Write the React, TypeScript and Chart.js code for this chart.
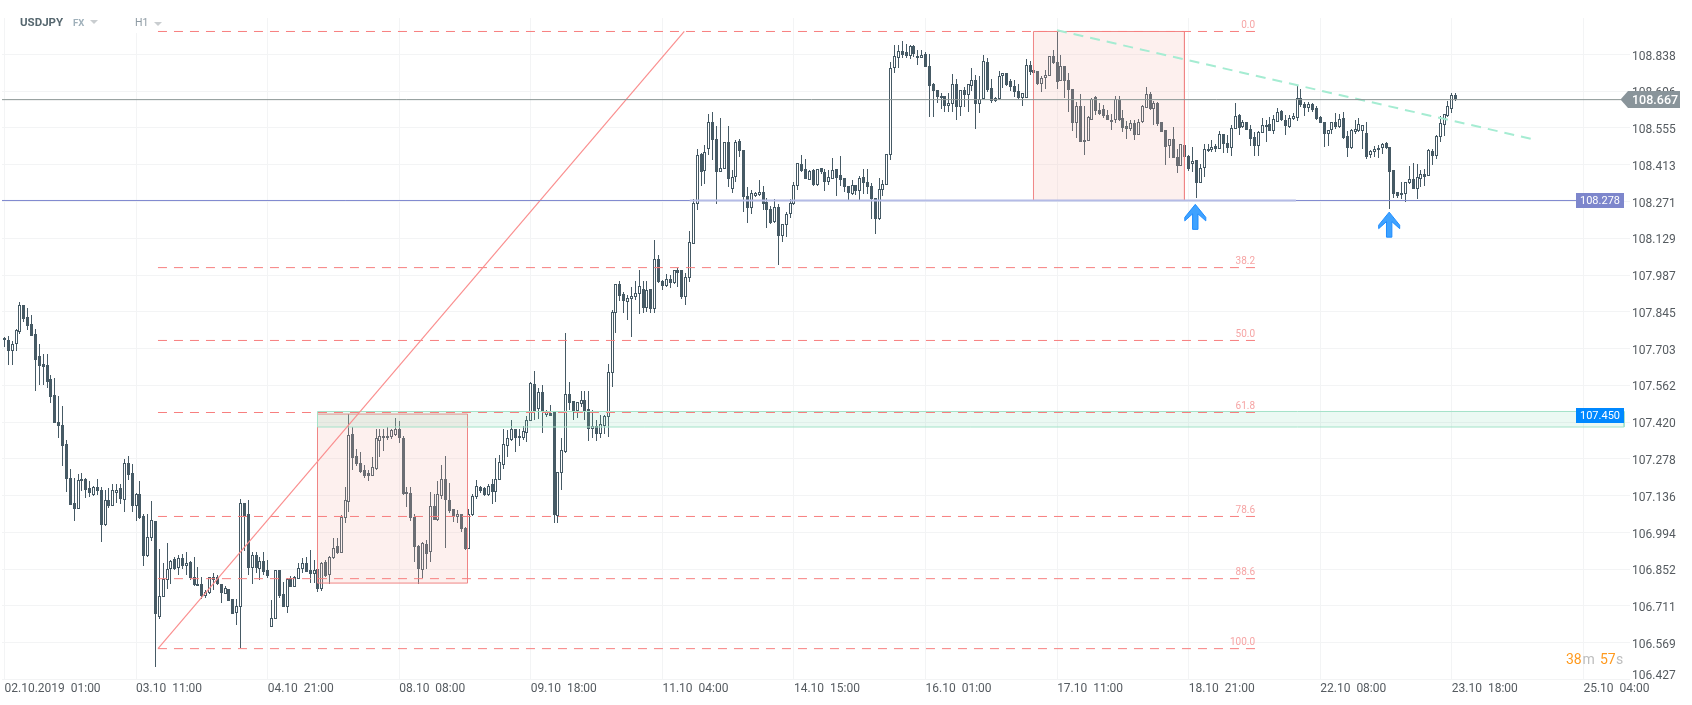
import React, { useEffect, useRef } from "react";
import { Chart, registerables } from "chart.js";

Chart.register(...registerables);

// [open, high, low, close]
const candlesEarlyOct = [
[107.746,107.749,107.710,107.736],[107.738,107.751,107.639,107.695],[107.695,107.732,107.639,107.723],[107.720,107.780,107.695,107.774],[107.768,107.882,107.761,107.871],[107.871,107.871,107.806,107.819],[107.826,107.862,107.774,107.790],[107.797,107.832,107.752,107.752],
[107.759,107.781,107.540,107.661],[107.674,107.723,107.562,107.637],[107.644,107.682,107.565,107.633],[107.640,107.682,107.552,107.575],[107.586,107.601,107.492,107.518],[107.524,107.592,107.415,107.415],[107.420,107.520,107.359,107.406],[107.408,107.482,107.251,107.328],
[107.335,107.350,107.151,107.202],[107.206,107.241,107.101,107.101],[107.106,107.206,107.039,107.085],[107.085,107.219,107.083,107.196],[107.193,107.224,107.155,107.202],[107.202,107.206,107.129,107.160],[107.164,107.192,107.132,107.148],[107.137,107.173,107.134,107.168],
[107.168,107.199,107.138,107.155],[107.160,107.170,106.958,107.024],[107.022,107.157,107.019,107.119],[107.119,107.164,107.089,107.097],[107.098,107.181,107.097,107.157],[107.147,107.181,107.106,107.160],[107.164,107.181,107.103,107.123],[107.121,107.278,107.074,107.264],
[107.264,107.289,107.196,107.217],[107.222,107.258,107.074,107.097],[107.097,107.147,107.039,107.141],[107.141,107.192,107.048,107.051],[107.057,107.067,106.866,106.904],[106.904,107.065,106.900,106.977],[106.974,107.115,106.962,107.044],[107.040,107.040,106.476,106.679],
[106.669,106.929,106.662,106.751],[106.746,106.875,106.746,106.814],[106.810,106.952,106.778,106.855],[106.853,106.887,106.795,106.886],[106.890,106.900,106.851,106.853],[106.859,106.907,106.830,106.894],[106.894,106.913,106.855,106.864],[106.864,106.917,106.830,106.878],
[106.881,106.884,106.810,106.817],[106.824,106.900,106.787,106.791],[106.797,106.862,106.787,106.788],[106.795,106.823,106.736,106.749],[106.749,106.772,106.740,106.763],[106.759,106.823,106.755,106.821],[106.821,106.836,106.772,106.810],[106.823,106.830,106.791,106.794],
[106.797,106.797,106.724,106.759],[106.757,106.787,106.755,106.779],[106.777,106.777,106.730,106.730],[106.737,106.737,106.679,106.680],[106.683,106.739,106.637,106.710],[106.705,107.125,106.547,107.106],[107.106,107.106,106.923,107.055],[107.064,107.119,106.830,106.859],
[106.859,106.920,106.797,106.907],[106.907,106.920,106.836,106.859],[106.853,106.900,106.810,106.886],[106.884,106.920,106.830,106.842],[106.851,106.887,106.817,106.826],[106.628,106.733,106.628,106.666],[106.662,106.849,106.662,106.848],[106.849,106.849,106.743,106.749],
[106.756,106.805,106.707,106.707],[106.707,106.817,106.684,106.814],[106.817,106.826,106.783,106.784],[106.784,106.826,106.784,106.821],[106.815,106.875,106.815,106.859],[106.853,106.894,106.836,106.875],[106.876,106.900,106.840,106.841],[106.849,106.926,106.800,106.833],
[106.835,106.887,106.800,106.848],[106.853,106.926,106.765,106.775],[106.775,106.881,106.769,106.878],[106.880,106.887,106.823,106.827],[106.830,106.903,106.795,106.900],[106.895,106.971,106.892,106.936],[106.941,106.971,106.913,106.916],[106.916,107.061,106.916,107.055],
[107.051,107.170,107.029,107.118],[107.112,107.453,107.074,107.370],[107.374,107.402,107.235,107.281],[107.289,107.318,107.250,107.258],[107.264,107.305,107.224,107.228],[107.235,107.254,107.206,107.213],[107.224,107.235,107.193,107.211],[107.213,107.286,107.211,107.247],
[107.241,107.395,107.235,107.357],[107.348,107.395,107.286,107.366],[107.359,107.395,107.309,107.368],[107.359,107.402,107.350,107.368],[107.363,107.395,107.353,107.389],[107.370,107.434,107.366,107.395],[107.395,107.424,107.340,107.358],[107.357,107.366,107.138,107.142],
[107.143,107.170,107.093,107.152],[107.148,107.170,107.038,107.051],[107.055,107.065,106.881,106.939],[106.943,106.945,106.797,106.853],[106.851,106.958,106.817,106.952],[106.949,106.965,106.855,106.911],[106.920,107.151,106.881,107.096],[107.098,107.141,107.042,107.044],
[107.042,107.193,107.039,107.141],[107.136,107.254,107.125,107.202],[107.202,107.289,106.935,107.121],[107.119,107.187,107.070,107.078],[107.083,107.083,107.035,107.055],[107.052,107.080,107.029,107.064],[107.064,107.064,106.997,107.008],[107.010,107.016,106.926,106.930],
[106.932,107.083,106.932,107.065],[107.061,107.141,107.058,107.134],[107.132,107.196,107.123,107.173],[107.170,107.173,107.145,107.155],[107.164,107.170,107.136,107.138],[107.139,107.181,107.134,107.175],[107.181,107.202,107.103,107.150],[107.150,107.283,107.112,107.202],
[107.198,107.292,107.196,107.267],
];

const candlesMidOct = [
[107.255,107.395,107.238,107.334],[107.328,107.389,107.286,107.357],[107.350,107.427,107.346,107.393],[107.393,107.393,107.305,107.357],[107.368,107.395,107.327,107.359],[107.359,107.404,107.350,107.384],[107.379,107.443,107.343,107.430],[107.425,107.573,107.425,107.569],
[107.566,107.617,107.430,107.462],[107.470,107.553,107.431,107.538],[107.538,107.563,107.379,107.460],[107.449,107.466,107.440,107.463],[107.457,107.485,107.443,107.444],[107.460,107.460,107.029,107.062],[107.058,107.226,107.031,107.226],[107.224,107.359,107.157,107.312],
[107.305,107.762,107.301,107.528],[107.530,107.574,107.466,107.494],[107.500,107.500,107.427,107.463],[107.463,107.496,107.436,107.496],[107.490,107.539,107.478,107.507],[107.507,107.539,107.427,107.463],[107.469,107.539,107.346,107.395],[107.395,107.466,107.359,107.404],
[107.404,107.430,107.346,107.373],[107.375,107.449,107.359,107.411],[107.406,107.447,107.373,107.444],[107.440,107.644,107.361,107.614],[107.610,107.854,107.556,107.845],[107.841,107.954,107.764,107.954],[107.954,107.963,107.886,107.907],[107.913,107.922,107.841,107.886],
[107.884,107.909,107.813,107.900],[107.895,107.942,107.749,107.907],[107.903,107.963,107.893,107.918],[107.916,108.006,107.836,107.944],[107.935,107.963,107.841,107.860],[107.859,107.963,107.845,107.931],[107.933,107.933,107.841,107.857],[107.857,108.122,107.841,108.051],
[108.051,108.066,107.957,107.959],[107.963,107.970,107.929,107.945],[107.945,107.990,107.941,107.974],[107.974,107.987,107.939,107.957],[107.957,108.008,107.954,108.005],[108.005,108.016,107.941,107.996],[108.008,108.008,107.894,107.903],[107.903,107.996,107.873,107.980],
[107.977,108.156,107.961,108.113],[108.109,108.280,108.106,108.267],[108.263,108.475,108.240,108.449],[108.453,108.460,108.330,108.385],[108.389,108.488,108.338,108.462],[108.475,108.608,108.451,108.576],[108.576,108.618,108.430,108.507],[108.514,108.561,108.260,108.385],
[108.385,108.592,108.385,108.401],[108.398,108.502,108.397,108.502],[108.502,108.564,108.327,108.358],[108.320,108.392,108.304,108.366],[108.366,108.507,108.347,108.502],[108.505,108.514,108.443,108.466],[108.471,108.471,108.231,108.289],[108.294,108.327,108.188,108.246],
[108.246,108.314,108.224,108.302],[108.293,108.308,108.289,108.302],[108.296,108.353,108.294,108.307],[108.307,108.330,108.240,108.262],[108.268,108.285,108.169,108.240],[108.244,108.254,108.186,108.190],[108.192,108.282,108.190,108.248],[108.248,108.260,108.025,108.138],
[108.138,108.186,108.113,108.186],[108.182,108.231,108.134,108.224],[108.224,108.282,108.208,108.267],[108.262,108.347,108.259,108.336],[108.332,108.421,108.314,108.421],[108.415,108.449,108.386,108.389],[108.398,108.434,108.357,108.358],[108.354,108.392,108.353,108.388],
[108.392,108.396,108.330,108.334],[108.334,108.398,108.332,108.397],[108.399,108.399,108.376,108.384],[108.384,108.398,108.312,108.347],[108.347,108.392,108.334,108.367],[108.358,108.437,108.357,108.394],[108.395,108.398,108.293,108.362],[108.372,108.446,108.330,108.354],
[108.360,108.360,108.309,108.326],[108.332,108.332,108.272,108.303],[108.300,108.353,108.298,108.336],[108.336,108.336,108.295,108.312],[108.312,108.368,108.272,108.360],[108.367,108.398,108.299,108.343],[108.348,108.398,108.299,108.326],[108.332,108.343,108.205,108.279],
[108.286,108.286,108.145,108.204],[108.204,108.360,108.201,108.321],[108.314,108.353,108.293,108.340],[108.336,108.455,108.336,108.455],[108.451,108.808,108.430,108.786],[108.785,108.876,108.767,108.831],[108.826,108.874,108.786,108.852],[108.852,108.889,108.826,108.838],
[108.847,108.880,108.826,108.833],[108.833,108.874,108.820,108.870],[108.870,108.874,108.829,108.840],[108.834,108.857,108.799,108.824],[108.825,108.855,108.824,108.838],[108.842,108.846,108.790,108.790],[108.795,108.842,108.597,108.716],[108.723,108.730,108.597,108.698],
[108.703,108.703,108.651,108.673],[108.680,108.691,108.627,108.671],[108.680,108.680,108.617,108.640],[108.640,108.691,108.617,108.653],[108.649,108.762,108.617,108.723],[108.723,108.745,108.585,108.636],[108.636,108.703,108.600,108.703],[108.700,108.711,108.636,108.682],
[108.682,108.726,108.617,108.726],[108.717,108.788,108.698,108.739],[108.739,108.759,108.551,108.646],[108.647,108.756,108.611,108.668],[108.667,108.835,108.667,108.815],[108.808,108.826,108.694,108.702],[108.708,108.744,108.651,108.657],[108.657,108.675,108.654,108.672],
[108.666,108.773,108.664,108.757],
];

const candlesLateOct = [
[108.756,108.765,108.709,108.765],[108.765,108.765,108.716,108.721],[108.735,108.745,108.698,108.713],[108.718,108.739,108.675,108.695],[108.696,108.726,108.668,108.671],[108.671,108.691,108.640,108.691],[108.671,108.819,108.671,108.799],[108.799,108.812,108.758,108.771],
[108.777,108.777,108.767,108.767],[108.774,108.774,108.720,108.723],[108.725,108.754,108.694,108.749],[108.748,108.777,108.707,108.761],[108.757,108.831,108.757,108.831],[108.831,108.857,108.803,108.806],[108.811,108.932,108.707,108.732],[108.735,108.835,108.735,108.793],
[108.793,108.793,108.671,108.735],[108.741,108.765,108.617,108.703],[108.707,108.707,108.543,108.572],[108.574,108.654,108.516,108.639],[108.639,108.684,108.501,108.501],[108.501,108.639,108.452,108.510],[108.504,108.600,108.504,108.596],[108.587,108.671,108.584,108.668],
[108.675,108.677,108.604,108.621],[108.626,108.651,108.604,108.609],[108.627,108.642,108.595,108.601],[108.606,108.623,108.585,108.587],[108.587,108.610,108.546,108.579],[108.585,108.677,108.574,108.666],[108.662,108.677,108.582,108.587],[108.592,108.623,108.540,108.555],
[108.561,108.581,108.514,108.552],[108.552,108.585,108.542,108.574],[108.574,108.587,108.507,108.528],[108.528,108.591,108.527,108.576],[108.576,108.642,108.572,108.641],[108.632,108.711,108.630,108.684],[108.685,108.694,108.626,108.627],[108.627,108.658,108.565,108.651],
[108.651,108.655,108.561,108.569],[108.576,108.576,108.540,108.540],[108.546,108.546,108.411,108.482],[108.485,108.514,108.437,108.514],[108.514,108.559,108.439,108.439],[108.441,108.475,108.381,108.408],[108.408,108.491,108.408,108.491],[108.488,108.488,108.430,108.441],
[108.446,108.450,108.389,108.395],[108.416,108.480,108.385,108.429],[108.430,108.430,108.284,108.343],[108.343,108.414,108.343,108.402],[108.402,108.494,108.366,108.475],[108.467,108.491,108.462,108.475],[108.469,108.507,108.462,108.483],[108.484,108.494,108.462,108.473],
[108.473,108.542,108.473,108.533],[108.533,108.533,108.458,108.492],[108.496,108.529,108.458,108.476],[108.478,108.568,108.446,108.556],[108.552,108.653,108.552,108.599],[108.604,108.610,108.529,108.556],[108.559,108.585,108.556,108.578],[108.576,108.576,108.546,108.547],
[108.552,108.565,108.485,108.511],[108.518,108.540,108.447,108.485],[108.485,108.543,108.447,108.541],[108.536,108.594,108.536,108.568],[108.559,108.585,108.501,108.568],[108.569,108.597,108.542,108.542],[108.543,108.604,108.533,108.588],[108.578,108.633,108.578,108.618],
[108.619,108.623,108.582,108.587],[108.584,108.604,108.527,108.561],[108.559,108.604,108.556,108.595],[108.590,108.613,108.587,108.599],[108.595,108.717,108.582,108.672],[108.672,108.704,108.636,108.642],[108.649,108.655,108.601,108.632],[108.631,108.655,108.617,108.646],
[108.646,108.653,108.617,108.623],[108.632,108.639,108.585,108.588],[108.596,108.600,108.572,108.574],[108.579,108.579,108.482,108.530],[108.530,108.548,108.485,108.548],[108.546,108.578,108.533,108.576],[108.577,108.614,108.552,108.559],[108.559,108.610,108.556,108.591],
[108.592,108.617,108.514,108.516],[108.522,108.543,108.443,108.478],[108.478,108.549,108.473,108.546],[108.540,108.587,108.533,108.549],[108.543,108.593,108.540,108.569],[108.542,108.568,108.475,108.568],[108.537,108.578,108.435,108.443],[108.449,108.471,108.440,108.467],
[108.462,108.485,108.443,108.475],[108.470,108.488,108.437,108.479],[108.478,108.497,108.453,108.494],[108.497,108.501,108.473,108.476],[108.480,108.480,108.243,108.385],[108.392,108.392,108.285,108.300],[108.307,108.307,108.286,108.293],[108.296,108.347,108.282,108.305],
[108.299,108.348,108.269,108.348],[108.343,108.408,108.340,108.356],[108.357,108.419,108.320,108.320],[108.320,108.415,108.280,108.365],[108.359,108.392,108.327,108.376],[108.377,108.398,108.330,108.367],[108.370,108.473,108.368,108.469],[108.466,108.473,108.411,108.447],
[108.447,108.529,108.434,108.523],[108.518,108.600,108.501,108.572],[108.567,108.610,108.524,108.610],[108.601,108.659,108.597,108.639],[108.628,108.691,108.613,108.681],[108.681,108.689,108.658,108.666],
];

const xTickLabels = ["02.10.2019  01:00","03.10  11:00","04.10  21:00","08.10  08:00","09.10  18:00","11.10  04:00","14.10  15:00","16.10  01:00","17.10  11:00","18.10  21:00","22.10  08:00","23.10  18:00","25.10  04:00"];
const yTickValues = [108.838,108.696,108.555,108.413,108.271,108.129,107.987,107.845,107.703,107.562,107.42,107.278,107.136,106.994,106.852,106.711,106.569,106.427];

const fibLevels = [["0.0",108.927],["38.2",108.016],["50.0",107.735],["61.8",107.457],["78.6",107.056],["88.6",106.816],["100.0",106.546]] as [string, number][];
const fibStartBar = 39.66;
const fibEndBar = 323.14;
const fibDiagonal = [{ x: 39.66, y: 106.546 }, { x: 175.66, y: 108.927 }];
const trendLine = [{ x: 271.96, y: 108.932 }, { x: 395.05, y: 108.511 }];
const redBoxes = [
  { x1: 80.88, x2: 119.64, top: 107.451, bottom: 106.799 },
  { x1: 265.89, x2: 304.9, top: 108.927, bottom: 108.275 },
];
const greenZone = { x1: 80.88, x2: 418.5, top: 107.461, bottom: 107.401 };
const lastPrice = 108.664;
const lastPriceLabel = "108.667";
const supportPrice = 108.275;
const supportLabel = "108.278";
const zoneLabel = "107.450";
const arrowMarks = [{ x: 307.7, y: 108.26 }, { x: 357.8, y: 108.23 }];

const X_MIN = -0.646;
const X_MAX = 420.03;
const Y_MIN = 106.427;
const Y_MAX = 108.979;

const CANDLE = "#465a65";

const allCandles = [...candlesEarlyOct, ...candlesMidOct, ...candlesLateOct];
const wicks = allCandles.map((c, i) => ({ x: i, y: [c[2], c[1]] }));
const upBodies = allCandles.map((c, i) => ({ x: i, y: [c[0], c[3]], up: c[3] >= c[0] })).filter((d) => d.up);
const downBodies = allCandles.map((c, i) => ({ x: i, y: [c[3], c[0]], up: c[3] >= c[0] })).filter((d) => !d.up);

const snapCandles = {
  id: "snapCandles",
  afterDatasetsUpdate(chart: any) {
    chart.data.datasets.forEach((ds: any, di: number) => {
      if (!ds.isCandle) return;
      chart.getDatasetMeta(di).data.forEach((el: any) => {
        el.x = Math.floor(el.x) + 0.5;
        let a = Math.round(el.y);
        let b = Math.round(el.base);
        if (a === b) b = a + 1;
        el.y = a;
        el.base = b;
      });
    });
  },
  // header strip hides the top of the grid line behind the H1 label
  beforeDatasetsDraw(chart: any) {
    chart.ctx.save();
    chart.ctx.fillStyle = "#ffffff";
    chart.ctx.fillRect(128, 15, 34, 18);
    chart.ctx.restore();
  },
};

const annotations = {
  id: "annotations",
  afterDraw(chart: any) {
    const { ctx } = chart;
    const xs = chart.scales.x;
    const ys = chart.scales.y;
    ctx.save();
    // header
    ctx.textBaseline = "middle";
    ctx.textAlign = "left";
    ctx.font = "bold 11.5px Roboto";
    ctx.fillStyle = "#56676f";
    ctx.fillText("USDJPY", 20, 23);
    ctx.font = "bold 9.5px Roboto";
    ctx.fillStyle = "#9fb0ba";
    ctx.fillText("FX", 73, 24);
    ctx.font = "10.5px Roboto";
    ctx.fillStyle = "#8d9aa3";
    ctx.fillText("H1", 135, 23.5);
    ctx.fillStyle = "#c9cdd0";
    [[90, 20, 98, 24], [154, 22, 162, 26]].forEach(([a, b, c, d]) => {
      ctx.beginPath();
      ctx.moveTo(a, b);
      ctx.lineTo(c, b);
      ctx.lineTo((a + c) / 2, d);
      ctx.closePath();
      ctx.fill();
    });
    // fib labels
    ctx.font = "10px Roboto";
    ctx.fillStyle = "#f6a5a5";
    ctx.textAlign = "right";
    ctx.textBaseline = "alphabetic";
    const fibRight = xs.getPixelForValue(fibEndBar);
    fibLevels.forEach(([label, v]) => ctx.fillText(label, fibRight, ys.getPixelForValue(v) - 3.5));
    // lowest axis label sits above its grid line
    ctx.font = "12px Roboto";
    ctx.fillStyle = "#555b60";
    ctx.textAlign = "left";
    ctx.textBaseline = "middle";
    ctx.fillText(yTickValues[yTickValues.length - 1].toFixed(3), 1632, 675.5);
    // last price tag
    const lastY = Math.round(ys.getPixelForValue(lastPrice) - 0.5) + 0.5;
    ctx.fillStyle = "#89949a";
    ctx.beginPath();
    ctx.moveTo(1620.5, lastY);
    ctx.lineTo(1628, 91);
    ctx.lineTo(1680, 91);
    ctx.lineTo(1680, 108);
    ctx.lineTo(1628, 108);
    ctx.closePath();
    ctx.fill();
    ctx.fillStyle = "#ffffff";
    ctx.font = "500 12.5px Roboto";
    ctx.fillText(lastPriceLabel, 1632, 101);
    // level tags
    ctx.font = "11px Roboto";
    ctx.textAlign = "center";
    const supY = ys.getPixelForValue(supportPrice);
    ctx.fillStyle = "#7d86cc";
    ctx.fillRect(1576, Math.round(supY - 7.5), 48, 15);
    ctx.fillStyle = "#ffffff";
    ctx.fillText(supportLabel, 1600, supY + 0.5);
    ctx.fillStyle = "#0088ff";
    ctx.fillRect(1576, 408, 48, 15);
    ctx.fillStyle = "#ffffff";
    ctx.fillText(zoneLabel, 1600, 416);
    // arrows
    arrowMarks.forEach((m) => {
      const ax = xs.getPixelForValue(m.x);
      const ay = ys.getPixelForValue(m.y);
      const shape = [[0, 0], [10.5, 13], [10.5, 16.5], [2.7, 9.5], [2.7, 25], [-2.7, 25], [-2.7, 9.5], [-10.5, 16.5], [-10.5, 13]];
      ctx.beginPath();
      shape.forEach(([sx, sy], k) => (k ? ctx.lineTo(ax + sx, ay + sy) : ctx.moveTo(ax + sx, ay + sy)));
      ctx.closePath();
      ctx.fillStyle = "#3fa2ff";
      ctx.fill();
      ctx.lineWidth = 1;
      ctx.strokeStyle = "#1e8cff";
      ctx.stroke();
    });
    // countdown
    ctx.font = "14px Roboto";
    ctx.textAlign = "left";
    ctx.textBaseline = "middle";
    const parts: [string, string, number][] = [["38", "#ff9a1f", 1566], ["m", "#bdbdbd", 1582.5], ["57", "#ff9a1f", 1600], ["s", "#bdbdbd", 1616]];
    parts.forEach(([t, c, x]) => {
      ctx.fillStyle = c;
      ctx.fillText(t, x, 660);
    });
    ctx.restore();
  },
};

const lineBase = { type: "line", pointRadius: 0, fill: false, tension: 0, borderWidth: 1 };

export default function App() {
  const ref = useRef<HTMLCanvasElement | null>(null);
  useEffect(() => {
    const boxDataset = (b: any, border: string, bg: string, order: number) => ({
      ...lineBase,
      order,
      borderColor: border,
      backgroundColor: bg,
      fill: "shape",
      data: [
        { x: b.x1, y: b.top },
        { x: b.x2, y: b.top },
        { x: b.x2, y: b.bottom },
        { x: b.x1, y: b.bottom },
        { x: b.x1, y: b.top },
      ],
    });
    const bodyCommon = { type: "bar", isCandle: true, grouped: false, barThickness: 3, inflateAmount: 0, borderSkipped: false };
    const chart = new Chart(ref.current as HTMLCanvasElement, {
      type: "bar",
      plugins: [snapCandles, annotations],
      data: {
        datasets: [
          { ...bodyCommon, order: 30, barThickness: 1, backgroundColor: CANDLE, borderWidth: 0, data: wicks },
          { ...bodyCommon, order: 20, backgroundColor: "#ffffff", borderColor: CANDLE, borderWidth: 1, data: upBodies },
          { ...bodyCommon, order: 19, backgroundColor: CANDLE, borderWidth: 0, data: downBodies },
          ...redBoxes.map((b) => boxDataset(b, "#f08585", "rgba(247,184,176,0.21)", 10)),
          boxDataset(greenZone, "#a3e2c8", "rgba(110,215,170,0.14)", 9),
          ...fibLevels.map(([, v]) => ({
            ...lineBase,
            order: 8,
            borderColor: "#f77f7f",
            borderDash: [9, 7],
            data: [{ x: fibStartBar, y: v }, { x: fibEndBar, y: v }],
          })),
          { ...lineBase, order: 7, borderColor: "#fa8f8f", borderWidth: 1.2, data: fibDiagonal },
          { ...lineBase, order: 6, borderColor: "#a5ecd2", borderWidth: 2, borderDash: [10, 7], data: trendLine },
          { ...lineBase, order: 5, borderColor: "#b4bbe6", borderWidth: 2, data: [{ x: 177.1, y: supportPrice }, { x: 333.7, y: supportPrice }] },
          { ...lineBase, order: 4, borderColor: "#7f88cf", data: [{ x: X_MIN, y: supportPrice }, { x: 177.1, y: supportPrice }] },
          { ...lineBase, order: 4, borderColor: "#7f88cf", data: [{ x: 333.7, y: supportPrice }, { x: 406.07, y: supportPrice }] },
          { ...lineBase, order: 3, borderColor: "#8a9594", data: [{ x: X_MIN, y: lastPrice }, { x: 417.7, y: lastPrice }] },
        ] as any,
      },
      options: {
        animation: false,
        responsive: false,
        events: [],
        layout: { padding: { top: 18, left: 2, right: 0, bottom: 0 } },
        plugins: { legend: { display: false }, tooltip: { enabled: false }, title: { display: false } },
        scales: {
          x: {
            type: "linear",
            offset: false,
            min: X_MIN,
            max: X_MAX,
            border: { display: false },
            grid: { color: "#f3f4f5", drawTicks: false, offset: false },
            afterBuildTicks: (s: any) => {
              s.ticks = xTickLabels.map((_, k) => ({ value: k * 34 }));
            },
            afterFit: (s: any) => {
              s.height = 25.5;
            },
            ticks: {
              autoSkip: false,
              maxRotation: 0,
              minRotation: 0,
              align: "start",
              padding: 2,
              color: "#555b60",
              font: { family: "Roboto", size: 12 },
              callback: (v: any) => xTickLabels[Math.round(Number(v) / 34)],
            },
          },
          y: {
            type: "linear",
            position: "right",
            min: Y_MIN,
            max: Y_MAX,
            border: { display: false },
            grid: { color: "#f3f4f5", drawTicks: false },
            afterBuildTicks: (s: any) => {
              s.ticks = yTickValues.map((value) => ({ value }));
            },
            afterFit: (s: any) => {
              s.width = 62;
            },
            ticks: {
              autoSkip: false,
              padding: 2,
              color: "#555b60",
              // the leading empty line with this line height drops the label 2px below its grid line
              font: { family: "Roboto", size: 12, lineHeight: "4px" },
              callback: (v: any) => (Number(v) === Y_MIN ? "" : ["", Number(v).toFixed(3)]),
            },
          },
        },
      } as any,
    });
    return () => chart.destroy();
  }, []);
  return (
    <div style={{ position: "absolute", left: 0, top: 0, width: 1692, height: 705, background: "#ffffff" }}>
      <canvas ref={ref} width={1692} height={705} style={{ display: "block" }} />
    </div>
  );
}
